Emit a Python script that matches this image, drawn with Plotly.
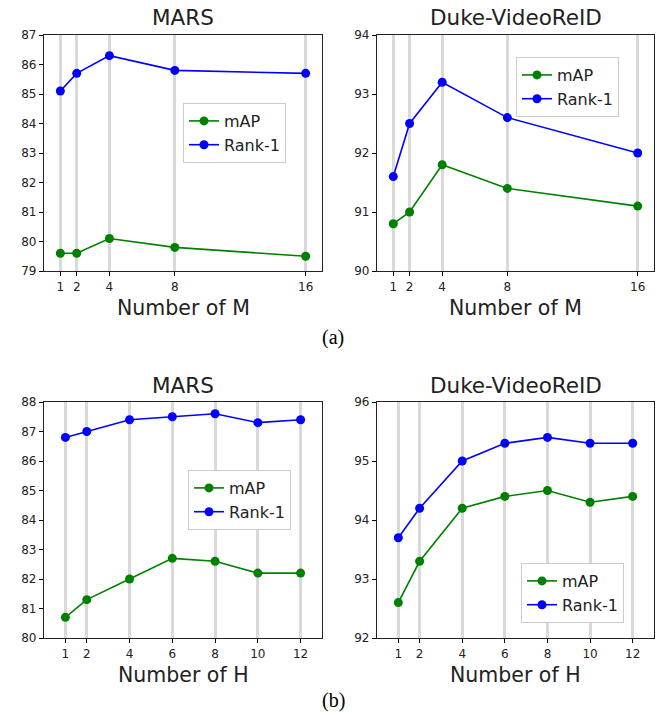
import plotly.graph_objects as go

# ---- data ----
m_values = [1, 2, 4, 8, 16]
h_values = [1, 2, 4, 6, 8, 10, 12]

mars_m_map = [79.6, 79.6, 80.1, 79.8, 79.5]
mars_m_rank1 = [85.1, 85.7, 86.3, 85.8, 85.7]
duke_m_map = [90.8, 91.0, 91.8, 91.4, 91.1]
duke_m_rank1 = [91.6, 92.5, 93.2, 92.6, 92.0]

mars_h_map = [80.7, 81.3, 82.0, 82.7, 82.6, 82.2, 82.2]
mars_h_rank1 = [86.8, 87.0, 87.4, 87.5, 87.6, 87.3, 87.4]
duke_h_map = [92.6, 93.3, 94.2, 94.4, 94.5, 94.3, 94.4]
duke_h_rank1 = [93.7, 94.2, 95.0, 95.3, 95.4, 95.3, 95.3]

panel_titles = ["MARS", "Duke-VideoReID", "MARS", "Duke-VideoReID"]
x_titles = ["Number of M", "Number of M", "Number of H", "Number of H"]
captions = ["(a)", "(b)"]

W, H = 657, 715
GREEN = "#008000"
BLUE = "#0000ff"
FONT = "DejaVu Sans"

def px_x(p):
    return p / W

def px_y(p):
    return 1 - p / H

# panel pixel boxes: (left, right, top, bottom)
boxes = [(44, 322, 35, 271), (377, 654, 35, 271), (44, 322, 402, 638), (377, 654, 402, 638)]
xranges = [[0, 17], [0, 17], [0, 13], [0, 13]]
yranges = [[79, 87], [90, 94], [80, 88], [92, 96]]
xticks = [m_values, m_values, h_values, h_values]
panels = [
    (m_values, mars_m_map, mars_m_rank1),
    (m_values, duke_m_map, duke_m_rank1),
    (h_values, mars_h_map, mars_h_rank1),
    (h_values, duke_h_map, duke_h_rank1),
]
# legend boxes (left, top) in pixels
legend_pos = [(183, 103), (516, 57), (188, 470), (521, 563)]

fig = go.Figure()
layout = dict(
    width=W, height=H, margin=dict(l=0, r=0, t=0, b=0, autoexpand=False),
    plot_bgcolor="white", paper_bgcolor="white",
    font=dict(family=FONT, color="#222"),
    annotations=[],
)

for i, (xs, mp, r1) in enumerate(panels):
    ax = "" if i == 0 else str(i + 1)
    lg = "legend" if i == 0 else "legend" + str(i + 1)
    fig.add_trace(go.Scatter(
        x=xs, y=mp, mode="lines+markers", name="mAP",
        line=dict(color=GREEN, width=1.6), marker=dict(color=GREEN, size=9),
        xaxis="x" + ax, yaxis="y" + ax, legend=lg))
    fig.add_trace(go.Scatter(
        x=xs, y=r1, mode="lines+markers", name="Rank-1",
        line=dict(color=BLUE, width=1.6), marker=dict(color=BLUE, size=9),
        xaxis="x" + ax, yaxis="y" + ax, legend=lg))
    l, r, t, b = boxes[i]
    layout["xaxis" + ax] = dict(
        domain=[px_x(l), px_x(r)], range=xranges[i], anchor="y" + ax,
        tickvals=xticks[i], ticks="outside", ticklen=4, tickcolor="black",
        showline=True, linecolor="#222", linewidth=1.2, mirror=True,
        showgrid=True, gridcolor="#d9d9d9", gridwidth=2.5, zeroline=False,
        automargin=False, tickfont=dict(size=12, color="#222"))
    layout["yaxis" + ax] = dict(
        domain=[px_y(b), px_y(t)], range=yranges[i], anchor="x" + ax,
        dtick=1, ticks="outside", ticklen=4, tickcolor="black",
        showline=True, linecolor="#222", linewidth=1.2, mirror=True,
        showgrid=False, zeroline=False,
        automargin=False, tickfont=dict(size=12, color="#222"))
    lx, ly = legend_pos[i]
    layout[lg] = dict(
        x=px_x(lx), y=px_y(ly), xanchor="left", yanchor="top",
        bgcolor="white", bordercolor="#cccccc", borderwidth=1,
        font=dict(size=16, color="#222"), itemwidth=30)
    cx = (l + r) / 2
    layout["annotations"].append(dict(
        text=panel_titles[i], x=px_x(cx), y=px_y(t - 17), xref="paper", yref="paper",
        showarrow=False, font=dict(size=21.5, color="#222"),
        xanchor="center", yanchor="middle"))
    layout["annotations"].append(dict(
        text=x_titles[i], x=px_x(cx), y=px_y(b + 37), xref="paper", yref="paper",
        showarrow=False, font=dict(size=20.5, color="#222"),
        xanchor="center", yanchor="middle"))

for cap, yy in zip(captions, [337, 700]):
    layout["annotations"].append(dict(
        text=cap, x=px_x(333), y=px_y(yy), xref="paper", yref="paper",
        showarrow=False, font=dict(size=20, color="black", family="Liberation Serif"),
        xanchor="center", yanchor="middle"))

fig.update_layout(**layout)
fig.write_html("out.html", config={"displayModeBar": False},
               post_script="document.body.style.margin='0px';document.body.style.overflow='hidden';")
